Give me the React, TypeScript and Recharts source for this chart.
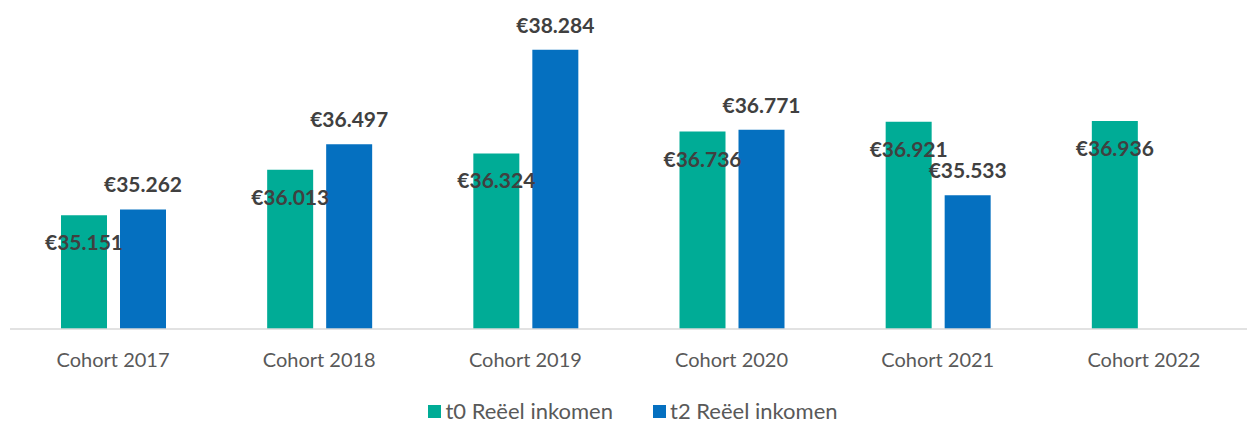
import { BarChart, Bar, XAxis, YAxis, Legend, LabelList } from 'recharts'

const cohorts = ['Cohort 2017', 'Cohort 2018', 'Cohort 2019', 'Cohort 2020', 'Cohort 2021', 'Cohort 2022']
const t0Values = [35151, 36013, 36324, 36736, 36921, 36936]
const t2Values: (number | null)[] = [35262, 36497, 38284, 36771, 35533, null]
const seriesNames = ['t0 Reëel inkomen', 't2 Reëel inkomen']

const chartData = cohorts.map((c, i) => ({
  name: c,
  t0: t0Values[i],
  t2: t2Values[i],
}))

const euro = (v: unknown) => {
  if (v === null || v === undefined) return ''
  const n = Number(v)
  return `€${Math.floor(n / 1000)}.${String(n % 1000).padStart(3, '0')}`
}

const labelStyle = { fontSize: 21, fontWeight: 700, fill: '#404040' }

function LegendContent({ payload }: any) {
  return (
    <div
      style={{
        display: 'flex',
        justifyContent: 'center',
        gap: 40,
        lineHeight: '24px',
        height: 24,
        paddingLeft: 9,
      }}
    >
      {(payload || []).map((p: any) => (
        <div key={p.value} style={{ display: 'flex', alignItems: 'center' }}>
          <span
            style={{ width: 13, height: 13, background: p.color, display: 'inline-block', marginRight: 4 }}
          />
          <span style={{ color: '#595959', fontSize: 22 }}>{p.value}</span>
        </div>
      ))}
    </div>
  )
}

export default function App() {
  return (
    <div style={{ fontFamily: 'Lato, sans-serif', width: 1247, height: 423 }}>
      <style>{`body{margin:0}`}</style>
      <BarChart
        width={1247}
        height={423}
        data={chartData}
        margin={{ top: 12, right: 0, left: 10, bottom: 0 }}
        barSize={46}
        barGap={13}
      >
        <XAxis
          dataKey="name"
          height={70}
          tickLine={false}
          tickMargin={18}
          axisLine={{ stroke: '#D9D9D9', strokeWidth: 1.5 }}
          tick={{ fill: '#595959', fontSize: 20 }}
        />
        <YAxis hide domain={[33000, 39000]} allowDataOverflow />
        <Legend verticalAlign="bottom" height={24} content={<LegendContent />} />
        <Bar dataKey="t0" name={seriesNames[0]} fill="#00AC96" isAnimationActive={false}>
          <LabelList dataKey="t0" position="insideTop" offset={20} formatter={euro} style={labelStyle} />
        </Bar>
        <Bar dataKey="t2" name={seriesNames[1]} fill="#0570C0" isAnimationActive={false}>
          <LabelList dataKey="t2" position="top" offset={17} formatter={euro} style={labelStyle} />
        </Bar>
      </BarChart>
    </div>
  )
}
